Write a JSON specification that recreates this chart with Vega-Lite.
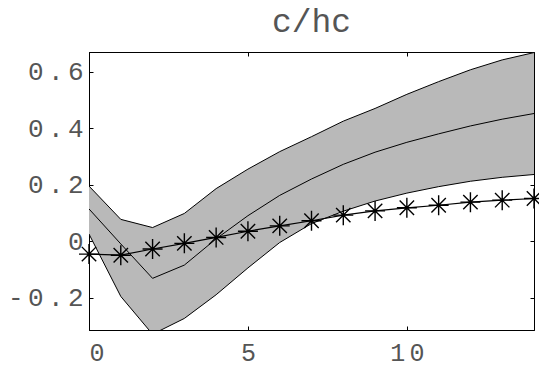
{
  "$schema": "https://vega.github.io/schema/vega-lite/v6.json",
  "width": 445,
  "height": 278,
  "autosize": {"type": "none"},
  "padding": {"left": 89, "top": 52, "right": 5, "bottom": 37},
  "background": "white",
  "title": {
    "text": "c/hc",
    "font": "Liberation Mono",
    "fontSize": 33,
    "fontWeight": "normal",
    "color": "#555555",
    "baseline": "alphabetic",
    "offset": 17,
    "dy": 30,
    "anchor": "middle"
  },
  "config": {
    "view": {"stroke": "black", "strokeWidth": 1},
    "axis": {
      "grid": false,
      "domainColor": "black",
      "domainWidth": 1,
      "tickColor": "black",
      "tickSize": -4,
      "tickWidth": 1,
      "labelFont": "Liberation Mono",
      "labelColor": "#555555",
      "labelFontSize": 26,
      "title": null
    }
  },
  "data": {
    "values": [
      {"t": 0, "upper": 0.195, "median": 0.114, "lower": 0.025, "star": -0.046},
      {"t": 1, "upper": 0.077, "median": -0.01, "lower": -0.196, "star": -0.05},
      {"t": 2, "upper": 0.048, "median": -0.132, "lower": -0.33, "star": -0.028},
      {"t": 3, "upper": 0.098, "median": -0.085, "lower": -0.274, "star": -0.008},
      {"t": 4, "upper": 0.186, "median": 0.008, "lower": -0.19, "star": 0.013},
      {"t": 5, "upper": 0.255, "median": 0.09, "lower": -0.095, "star": 0.035},
      {"t": 6, "upper": 0.317, "median": 0.162, "lower": -0.005, "star": 0.054},
      {"t": 7, "upper": 0.37, "median": 0.22, "lower": 0.062, "star": 0.072},
      {"t": 8, "upper": 0.425, "median": 0.272, "lower": 0.106, "star": 0.092},
      {"t": 9, "upper": 0.47, "median": 0.315, "lower": 0.142, "star": 0.107},
      {"t": 10, "upper": 0.52, "median": 0.35, "lower": 0.17, "star": 0.118},
      {"t": 11, "upper": 0.565, "median": 0.38, "lower": 0.193, "star": 0.127},
      {"t": 12, "upper": 0.607, "median": 0.408, "lower": 0.212, "star": 0.138},
      {"t": 13, "upper": 0.642, "median": 0.432, "lower": 0.226, "star": 0.145},
      {"t": 14, "upper": 0.668, "median": 0.452, "lower": 0.236, "star": 0.151}
    ]
  },
  "resolve": {"axis": {"x": "independent", "y": "independent"}},
  "layer": [
    {
      "mark": {"type": "area", "color": "#b9b9b9", "clip": true, "interpolate": "linear"},
      "encoding": {
        "x": {"field": "t", "type": "quantitative", "scale": {"domain": [0, 14], "nice": false, "zero": false},
          "axis": {"orient": "bottom", "values": [0, 5, 10], "labelPadding": 14, "labelFontSize": 25,
            "labelExpr": "join(split(datum.label, ''), '\u2006')"}},
        "y": {"field": "upper", "type": "quantitative", "scale": {"domain": [-0.315, 0.67], "nice": false, "zero": false},
          "axis": {"orient": "left", "values": [-0.2, 0, 0.2, 0.4, 0.6], "labelPadding": 10,
            "labelExpr": "join(split(datum.value == 0 ? '0' : replace(format(datum.value, '.1f'), '\u2212', '-'), ''), '\u2006')"}},
        "y2": {"field": "lower"}
      }
    },
    {
      "mark": {"type": "line", "color": "black", "strokeWidth": 1, "clip": true},
      "encoding": {
        "x": {"field": "t", "type": "quantitative",
          "axis": {"orient": "top", "values": [0, 5, 10], "labels": false}},
        "y": {"field": "upper", "type": "quantitative",
          "axis": {"orient": "right", "values": [-0.2, 0, 0.2, 0.4, 0.6], "labels": false}}
      }
    },
    {
      "mark": {"type": "line", "color": "black", "strokeWidth": 1, "clip": true},
      "encoding": {
        "x": {"field": "t", "type": "quantitative", "axis": null},
        "y": {"field": "lower", "type": "quantitative", "axis": null}
      }
    },
    {
      "mark": {"type": "line", "color": "black", "strokeWidth": 1, "clip": true},
      "encoding": {
        "x": {"field": "t", "type": "quantitative", "axis": null},
        "y": {"field": "median", "type": "quantitative", "axis": null}
      }
    },
    {
      "mark": {"type": "line", "color": "black", "strokeWidth": 1.2},
      "encoding": {
        "x": {"field": "t", "type": "quantitative", "axis": null},
        "y": {"field": "star", "type": "quantitative", "axis": null}
      }
    },
    {
      "mark": {"type": "point", "shape": "M0,-1L0,1M-1,0L1,0M-0.72,-0.72L0.72,0.72M-0.72,0.72L0.72,-0.72", "filled": false, "stroke": "black", "strokeWidth": 1.4, "size": 400, "opacity": 1},
      "encoding": {
        "x": {"field": "t", "type": "quantitative", "axis": null},
        "y": {"field": "star", "type": "quantitative", "axis": null}
      }
    }
  ]
}
